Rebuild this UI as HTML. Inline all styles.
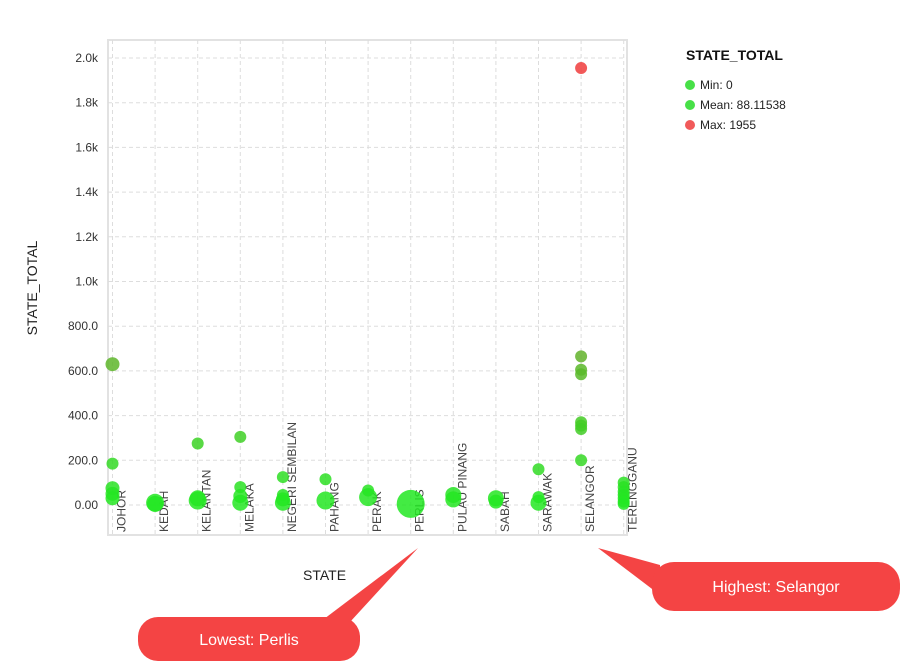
<!DOCTYPE html>
<html><head><meta charset="utf-8"><style>
body{margin:0;background:#fff;font-family:"Liberation Sans",Arial,sans-serif;}
svg text{font-family:"Liberation Sans",Arial,sans-serif;}
</style></head><body>
<svg id="chart" width="902" height="665">
<g id="grid"></g><g id="axes"></g><g id="marks"></g>
<text x="303" y="580" text-anchor="start" font-size="14" fill="#222">STATE</text>
<text transform="translate(37,288) rotate(-90)" text-anchor="middle" font-size="14" fill="#222">STATE_TOTAL</text>
<g>
<text x="686" y="60" font-size="14" font-weight="bold" fill="#111">STATE_TOTAL</text>
<g><circle cx="690" cy="85" r="5" fill="#33dd33" opacity="0.9"/><text x="700" y="89" font-size="12" fill="#222">Min: 0</text></g>
<g><circle cx="690" cy="105" r="5" fill="#33dd33" opacity="0.9"/><text x="700" y="109" font-size="12" fill="#222">Mean: 88.11538</text></g>
<g><circle cx="690" cy="125" r="5" fill="#f04848" opacity="0.9"/><text x="700" y="129" font-size="12" fill="#222">Max: 1955</text></g>
</g>
<g>
<polygon points="320,622 350,622 418,548" fill="#f44444"/>
<rect x="138" y="617" width="222" height="44" rx="20" fill="#f44444"/>
<text x="249" y="645" text-anchor="middle" font-size="16" fill="#fff">Lowest: Perlis</text>
</g>
<g>
<polygon points="660,565 660,595 598,548" fill="#f44444"/>
<rect x="652" y="562" width="248" height="49" rx="22" fill="#f44444"/>
<text x="776" y="592" text-anchor="middle" font-size="16" fill="#fff">Highest: Selangor</text>
</g>
</svg>
<script>
const states=["JOHOR","KEDAH","KELANTAN","MELAKA","NEGERI SEMBILAN","PAHANG","PERAK","PERLIS","PULAU PINANG","SABAH","SARAWAK","SELANGOR","TERENGGANU"];
const yTicks=[0,200,400,600,800,1000,1200,1400,1600,1800,2000];
const yTickLabels=["0.00","200.0","400.0","600.0","800.0","1.0k","1.2k","1.4k","1.6k","1.8k","2.0k"];
const pointState=[0,0,0,0,0,1,1,2,2,2,3,3,3,3,4,4,4,4,5,5,6,6,7,8,8,9,9,10,10,10,11,11,11,11,11,11,11,11,12,12,12,12,12,12,12];
const pointValue=[630,185,75,50,30,10,5,275,20,30,305,80,40,10,125,45,25,10,115,20,65,35,5,45,25,30,15,160,35,10,1955,665,605,585,370,355,340,200,100,80,60,45,30,15,5];
const pointSize=[7,6,7,7,7,9,8,6,9,8,6,6,7,8,6,6,7,8,6,9,6,9,14,8,8,8,7,6,6,8,6,6,6,6,6,6,6,6,6,6,6,6,6,6,6];
const NS="http://www.w3.org/2000/svg";
const L=108,R=627,T=40,B=535;
function xs(i){return 112.5+i*42.6;}
function ys(v){return 505-v*(447/2000);}
function mk(tag,attrs,parent){const e=document.createElementNS(NS,tag);for(const k in attrs)e.setAttribute(k,attrs[k]);parent.appendChild(e);return e;}
const grid=document.getElementById('grid'),axes=document.getElementById('axes'),marks=document.getElementById('marks');
mk('rect',{x:L,y:T,width:R-L,height:B-T,fill:'none',stroke:'#e2e2e2','stroke-width':2},grid);
yTicks.forEach((v,i)=>{
 const y=ys(v);
 const g=mk('line',{x1:L,x2:R,y1:y,y2:y,stroke:'#ddd','stroke-dasharray':'4,3'},grid);
 
 
 const t=mk('text',{x:98,y:y+4,'text-anchor':'end','font-size':12,fill:'#333'},axes);
 t.textContent=yTickLabels[i];
 
 
});
states.forEach((s,i)=>{
 const x=xs(i);
 const g=mk('line',{x1:x,x2:x,y1:T,y2:B,stroke:'#ddd','stroke-dasharray':'4,3'},grid);
 
 
 const t=mk('text',{transform:`translate(${x+13},532) rotate(-90)`,'font-size':12,fill:'#444'},axes);
 t.textContent=s;
 
 
});
function col(v){const t=Math.min(1,v/1955);const c0=[34,232,34],c1=[240,60,60];
 const tt=t<0.5?t*0.9:t;return `rgb(${c0.map((c,k)=>Math.round(c+(c1[k]-c)*tt)).join(',')})`;}
pointValue.forEach((v,i)=>{
 const c=mk('circle',{cx:xs(pointState[i]),cy:ys(v),r:pointSize[i],fill:col(v),opacity:0.85},marks);
 
 
});
</script>
</body></html>
